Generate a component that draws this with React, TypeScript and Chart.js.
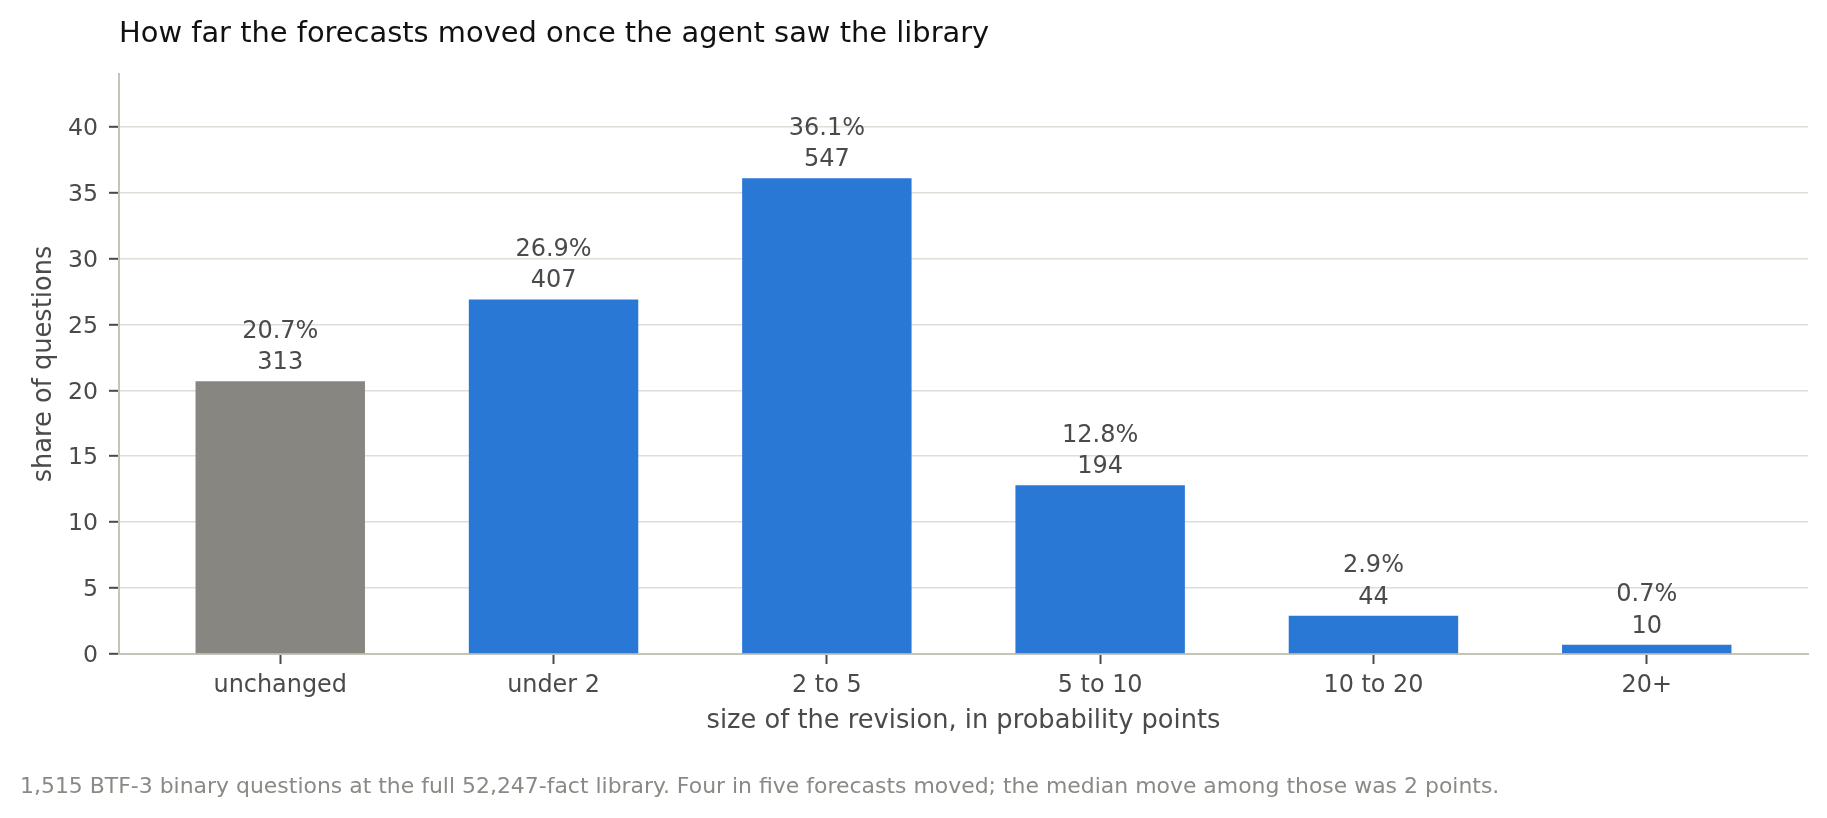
import React, { useEffect, useRef } from "react";
import { Chart, registerables } from "chart.js";

Chart.register(...registerables);

// revision buckets, share of questions (%) and question counts
const categories = ["unchanged", "under 2", "2 to 5", "5 to 10", "10 to 20", "20+"];
const shares = [20.7, 26.9, 36.1, 12.8, 2.9, 0.7];
const counts = [313, 407, 547, 194, 44, 10];
const yTicks = [0, 5, 10, 15, 20, 25, 30, 35, 40];

const TITLE = "How far the forecasts moved once the agent saw the library";
const NOTE =
   "1,515 BTF-3 binary questions at the full 52,247-fact library. Four in five forecasts moved; the median move among those was 2 points.";

const FONT = "'DejaVu Sans', sans-serif";
const INK = "#4a4a4a";
const BLUE = "#2a78d6";
const GREY = "#878680";

const textPlugin = {
   id: "texts",
   afterDatasetsDraw(chart: any) {
      const { ctx, chartArea } = chart;
      const meta = chart.getDatasetMeta(0);
      ctx.save();
      ctx.textAlign = "center";
      ctx.textBaseline = "alphabetic";
      ctx.fillStyle = INK;
      ctx.font = `24px ${FONT}`;
      meta.data.forEach((bar: any, i: number) => {
         ctx.fillText(`${shares[i].toFixed(1)}%`, bar.x, bar.y - 43.5);
         ctx.fillText(String(counts[i]), bar.x, bar.y - 12);
      });
      ctx.textAlign = "left";
      ctx.fillStyle = "#111111";
      ctx.font = `28.9px ${FONT}`;
      ctx.fillText(TITLE, chartArea.left, 41.5);
      ctx.fillStyle = "#8a8a85";
      ctx.font = `21.95px ${FONT}`;
      ctx.fillText(NOTE, 20, 792.5);
      ctx.restore();
   },
};

const BarChart = () => {
   const chartRef = useRef<HTMLCanvasElement | null>(null);

   useEffect(() => {
      document.body.style.margin = "0";
      document.body.style.overflow = "hidden";
      if (!chartRef.current) return;
      const chart = new Chart(chartRef.current, {
         type: "bar",
         data: {
            datasets: [
               {
                  data: shares.map((v, i) => ({ x: i, y: v })),
                  backgroundColor: categories.map((c) => (c === "unchanged" ? GREY : BLUE)),
                  categoryPercentage: 0.62,
                  barPercentage: 1,
                  borderWidth: 0,
               },
            ],
         },
         options: {
            animation: false,
            responsive: false,
            layout: { padding: { top: 74, right: 19, bottom: 74, left: 0 } },
            plugins: {
               legend: { display: false },
               tooltip: { enabled: false },
            },
            scales: {
               x: {
                  type: "linear",
                  min: -0.59,
                  max: 5.59,
                  offset: false,
                  afterFit: (scale: any) => {
                     scale.height = 90;
                  },
                  border: { color: "#c4c4b8", width: 2 },
                  grid: {
                     offset: false,
                     drawOnChartArea: false,
                     drawTicks: true,
                     tickLength: 10,
                     tickColor: INK,
                     tickWidth: 2,
                  },
                  ticks: {
                     stepSize: 1,
                     includeBounds: false,
                     autoSkip: false,
                     maxRotation: 0,
                     padding: 7.5,
                     color: INK,
                     font: { family: FONT, size: 23.9 },
                     callback: (v: any) =>
                        Number.isInteger(v) && categories[v] !== undefined ? categories[v] : "",
                  },
                  title: {
                     display: true,
                     text: "size of the revision, in probability points",
                     color: INK,
                     font: { family: FONT, size: 25.7 },
                     padding: { top: 0, bottom: 7 },
                  },
               },
               y: {
                  min: 0,
                  max: 44,
                  afterFit: (scale: any) => {
                     scale.width = 119;
                  },
                  afterBuildTicks: (scale: any) => {
                     scale.ticks = yTicks.map((v) => ({ value: v }));
                  },
                  border: { color: "#c4c4b8", width: 2 },
                  grid: {
                     color: "#deded6",
                     lineWidth: 1.6,
                     drawTicks: true,
                     tickLength: 10,
                     tickColor: INK,
                     tickWidth: 2,
                  },
                  ticks: {
                     padding: 11,
                     labelOffset: 2,
                     color: INK,
                     font: { family: FONT, size: 23.6 },
                  },
                  title: {
                     display: true,
                     text: "share of questions",
                     color: INK,
                     font: { family: FONT, size: 25.7 },
                     padding: { top: 29, bottom: 0 },
                  },
               },
            },
         },
         plugins: [textPlugin],
      });
      return () => {
         chart.destroy();
      };
   }, []);

   return (
      <div style={{ width: 1827, height: 818, background: "#ffffff" }}>
         <canvas ref={chartRef} width={1827} height={818} />
      </div>
   );
};

export default function App() {
   return <BarChart />;
}
